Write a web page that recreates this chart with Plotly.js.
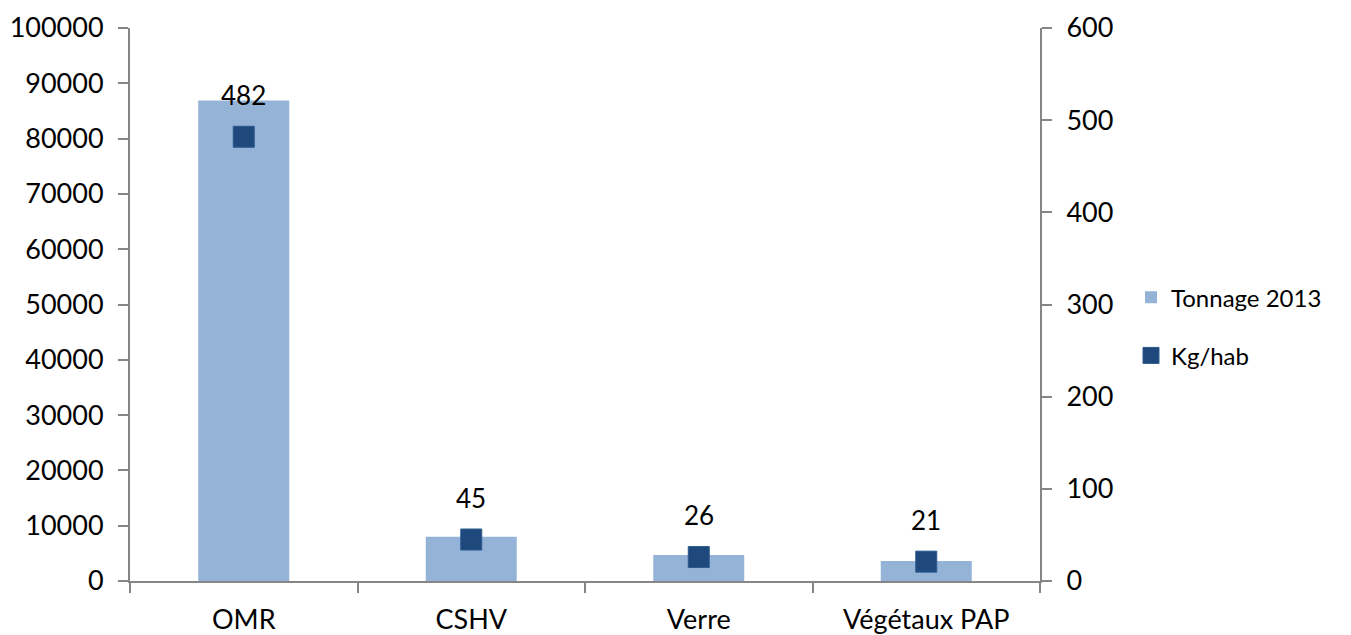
<!DOCTYPE html>
<html>
<head>
<meta charset="utf-8">
<script src="https://cdn.plot.ly/plotly-3.0.1.min.js"></script>
<style>html,body{margin:0;padding:0;background:#fff;}#chart{width:1351px;height:635px;}</style>
</head>
<body>
<div id="chart"></div>
<script>
const categories = ["OMR", "CSHV", "Verre", "Végétaux PAP"];
const tonnage2013 = [86900, 8000, 4700, 3600];
const kgHab = [482, 45, 26, 21];
const seriesNames = ["Tonnage 2013", "Kg/hab"];

const FONT = "Lato, 'Open Sans', sans-serif";
const AXIS_COLOR = "#868686";

const traces = [
  {
    type: "bar",
    name: seriesNames[0],
    legendgroup: "a",
    x: categories,
    y: tonnage2013,
    marker: {color: "#95B3D7"},
    width: 0.4,
    yaxis: "y"
  },
  {
    type: "scatter",
    mode: "markers",
    name: seriesNames[1],
    legendgroup: "b",
    x: categories,
    y: kgHab,
    yaxis: "y2",
    marker: {symbol: "square", size: 21, color: "#1F497D", line: {color: "#2C5A8E", width: 1}}
  }
];

const annotations = categories.map((c, i) => ({
  x: c, y: kgHab[i], xref: "x", yref: "y2",
  text: String(kgHab[i]), showarrow: false,
  yshift: 42, yanchor: "middle",
  font: {family: FONT, size: 26, color: "#000"}
}));

const layout = {
  width: 1351, height: 635,
  margin: {l: 130, r: 311, t: 28, b: 54},
  paper_bgcolor: "#fff", plot_bgcolor: "#fff",
  font: {family: FONT, size: 24, color: "#000"},
  showlegend: true,
  legend: {x: 1.1, xanchor: "left", y: 0.46, yanchor: "middle", font: {family: FONT, size: 24}, tracegroupgap: 24},
  xaxis: {
    type: "category",
    showline: true, linecolor: AXIS_COLOR, linewidth: 2,
    ticks: "outside", ticklen: 10, tickcolor: AXIS_COLOR, tickwidth: 2,
    tickson: "boundaries",
    showgrid: false, zeroline: false,
    tickfont: {family: FONT, size: 27},
    ticklabelstandoff: 14
  },
  yaxis: {
    range: [0, 100000], dtick: 10000,
    showline: true, linecolor: AXIS_COLOR, linewidth: 2,
    ticks: "outside", ticklen: 10, tickcolor: AXIS_COLOR, tickwidth: 2,
    showgrid: false, zeroline: false, tickformat: "d",
    tickfont: {family: FONT, size: 27},
    ticklabelstandoff: 9
  },
  yaxis2: {
    overlaying: "y", side: "right",
    range: [0, 600], dtick: 100,
    showline: true, linecolor: AXIS_COLOR, linewidth: 2,
    ticks: "outside", ticklen: 10, tickcolor: AXIS_COLOR, tickwidth: 2,
    showgrid: false, zeroline: false,
    tickfont: {family: FONT, size: 27},
    ticklabelstandoff: 9
  },
  annotations: annotations
};

Plotly.newPlot("chart", traces, layout, {displayModeBar: false, staticPlot: true});
</script>
</body>
</html>
